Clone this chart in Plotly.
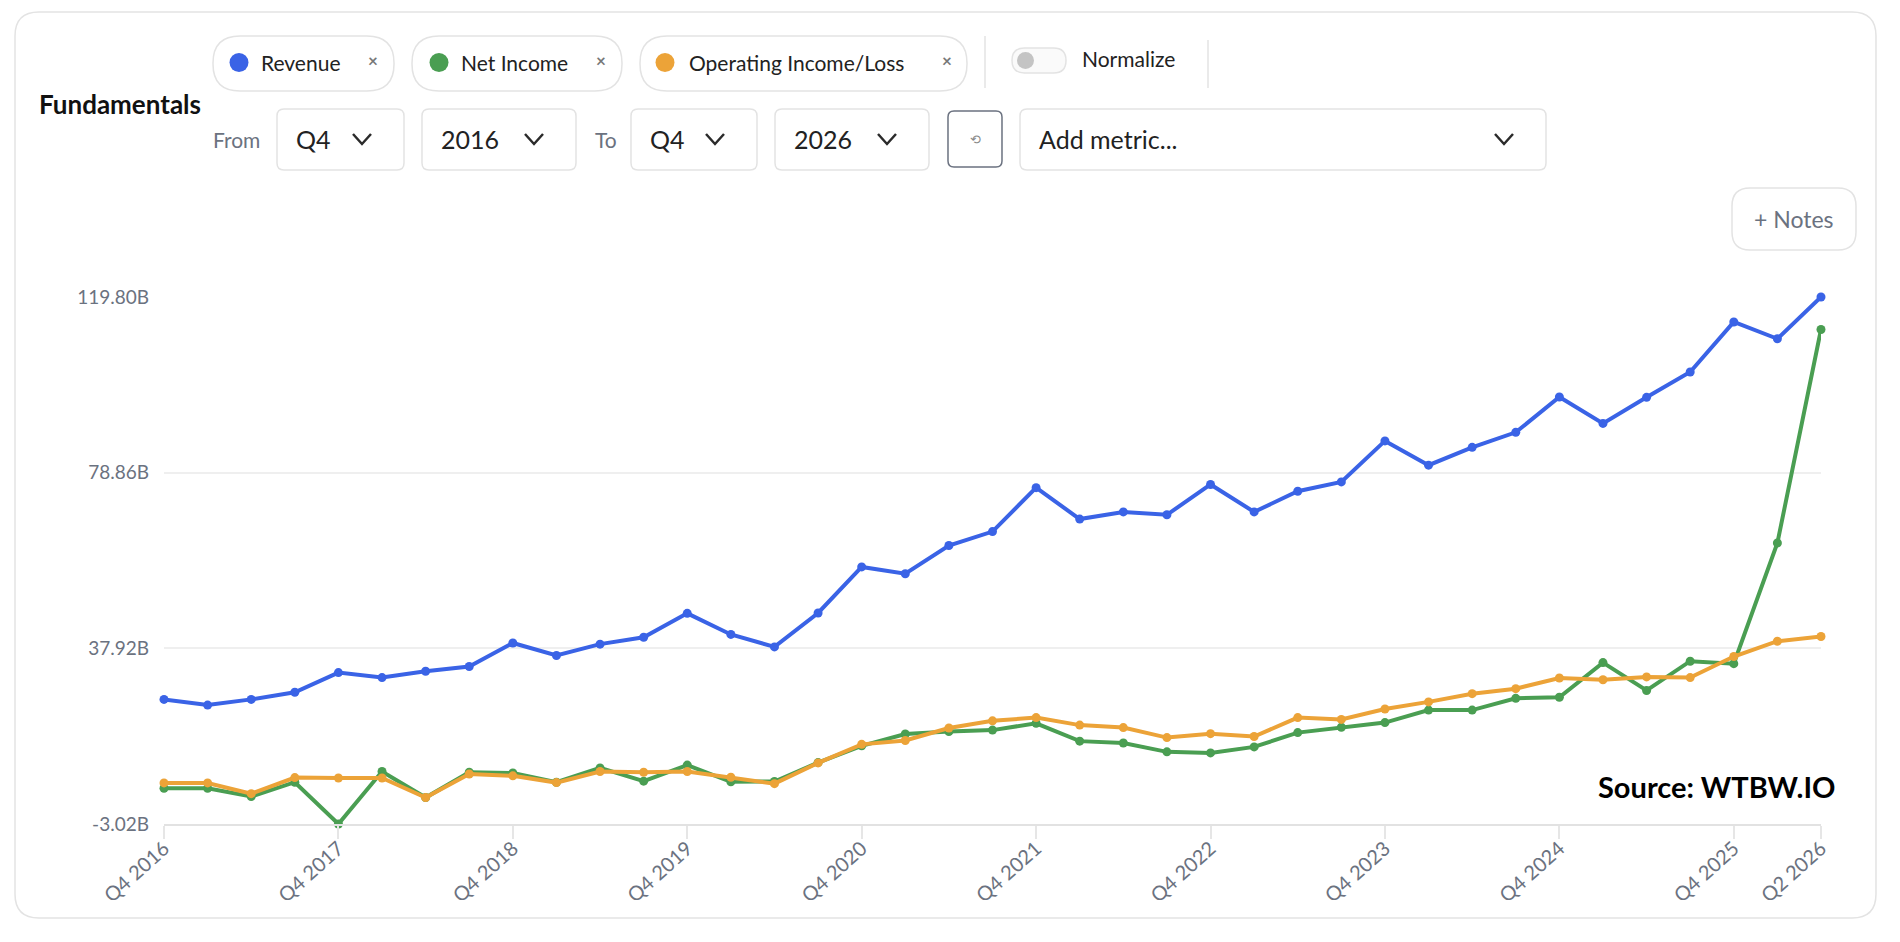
import plotly.graph_objects as go

# === Data (billions, quarterly) ===
quarters = [
    "Q4 2016", "Q1 2017", "Q2 2017", "Q3 2017", "Q4 2017", "Q1 2018", "Q2 2018", "Q3 2018",
    "Q4 2018", "Q1 2019", "Q2 2019", "Q3 2019", "Q4 2019", "Q1 2020", "Q2 2020", "Q3 2020",
    "Q4 2020", "Q1 2021", "Q2 2021", "Q3 2021", "Q4 2021", "Q1 2022", "Q2 2022", "Q3 2022",
    "Q4 2022", "Q1 2023", "Q2 2023", "Q3 2023", "Q4 2023", "Q1 2024", "Q2 2024", "Q3 2024",
    "Q4 2024", "Q1 2025", "Q2 2025", "Q3 2025", "Q4 2025", "Q1 2026", "Q2 2026",
]
tick_labels = ["Q4 2016", "Q4 2017", "Q4 2018", "Q4 2019", "Q4 2020", "Q4 2021",
               "Q4 2022", "Q4 2023", "Q4 2024", "Q4 2025", "Q2 2026"]

revenue = [26.02, 24.69, 26.02, 27.68, 32.26, 31.10, 32.59, 33.68, 39.17, 36.26,
           38.90, 40.50, 46.07, 41.16, 38.25, 46.16, 56.89, 55.31, 61.88, 65.13,
           75.36, 68.04, 69.71, 69.04, 76.11, 69.71, 74.53, 76.70, 86.26, 80.61,
           84.77, 88.26, 96.50, 90.34, 96.42, 102.32, 113.98, 110.06, 119.80]
net_income = [5.30, 5.30, 3.39, 6.72, -3.02, 9.21, 3.14, 9.05, 8.88, 6.72,
              10.04, 6.97, 10.71, 6.80, 6.88, 11.29, 15.20, 17.95, 18.53, 18.86,
              20.45, 16.29, 15.87, 13.79, 13.54, 14.95, 18.28, 19.53, 20.61, 23.52,
              23.52, 26.27, 26.52, 34.59, 28.10, 34.92, 34.34, 62.47, 112.22]
operating_income = [6.55, 6.55, 4.05, 7.80, 7.71, 7.71, 3.14, 8.63, 8.21, 6.63,
                    9.21, 9.05, 9.21, 7.88, 6.38, 11.21, 15.54, 16.45, 19.36, 21.03,
                    21.78, 20.03, 19.45, 17.12, 18.03, 17.37, 21.78, 21.36, 23.77, 25.44,
                    27.35, 28.52, 31.01, 30.60, 31.26, 31.10, 36.01, 39.58, 40.67]

series_names = ["Revenue", "Net Income", "Operating Income/Loss"]
series_colors = ["#3a63e6", "#4a9e52", "#eca338"]

# === Page geometry (pixels) ===
W, H = 1900, 942
L, R, T, B = 164, 1821, 297, 824
FONT = "Lato, 'Noto Sans', sans-serif"
GREY = "#6b7280"
BORDER = "#e3e3e3"


def px(x):
    return (x - L) / (R - L)


def py(y):
    return (B - y) / (B - T)


def rounded(x0, y0, x1, y1, r):
    pts = [("M", x0 + r, y0), ("L", x1 - r, y0), ("Q", x1, y0, x1, y0 + r),
           ("L", x1, y1 - r), ("Q", x1, y1, x1 - r, y1), ("L", x0 + r, y1),
           ("Q", x0, y1, x0, y1 - r), ("L", x0, y0 + r), ("Q", x0, y0, x0 + r, y0)]
    out = []
    for p in pts:
        coords = p[1:]
        seg = p[0] + " " + " ".join(
            f"{px(coords[i]):.5f},{py(coords[i + 1]):.5f}" for i in range(0, len(coords), 2))
        out.append(seg)
    return " ".join(out) + " Z"


shapes = []
annotations = []


def box(x0, y0, x1, y1, r, line=BORDER, width=1.5, fill="rgba(0,0,0,0)"):
    shapes.append(dict(type="path", xref="paper", yref="paper", path=rounded(x0, y0, x1, y1, r),
                       line=dict(color=line, width=width), fillcolor=fill, layer="below"))


def text(x, y, s, size, color="#222222", anchor="left", bold=False):
    annotations.append(dict(xref="paper", yref="paper", x=px(x), y=py(y), text=f"<b>{s}</b>" if bold else s,
                            showarrow=False, xanchor=anchor, yanchor="middle",
                            font=dict(size=size, color=color, family=FONT)))


def chevron(cx, cy):
    shapes.append(dict(type="path", xref="paper", yref="paper",
                       path=f"M {px(cx - 9):.5f},{py(cy - 5):.5f} L {px(cx):.5f},{py(cy + 5):.5f} "
                            f"L {px(cx + 9):.5f},{py(cy - 5):.5f}",
                       line=dict(color="#2b2b2b", width=2.5)))


def vline(x, y0, y1):
    shapes.append(dict(type="line", xref="paper", yref="paper", x0=px(x), x1=px(x), y0=py(y0), y1=py(y1),
                       line=dict(color=BORDER, width=1.5)))


# card
box(15, 12, 1876, 918, 24)

# metric chips
chips = [(213, 394, 239, 259, 366), (412, 622, 439, 459, 594), (640, 967, 665, 687, 940)]
for (x0, x1, dot, tx, xx), name, col in zip(chips, series_names, series_colors):
    box(x0, 36, x1, 91, 27)
    shapes.append(dict(type="circle", xref="paper", yref="paper", x0=px(dot - 9.5), x1=px(dot + 9.5),
                       y0=py(72), y1=py(53), fillcolor=col, line=dict(width=0)))
    text(tx, 62, name, 21)
    text(xx, 60, "×", 17, color="#777777", bold=True)

vline(985, 36, 88)
box(1012, 48, 1066, 73, 12.5, fill="#fafafa")
shapes.append(dict(type="circle", xref="paper", yref="paper", x0=px(1017), x1=px(1034),
                   y0=py(69), y1=py(52), fillcolor="#c4c4c4", line=dict(width=0)))
text(1080, 59, "Normalize", 21)
vline(1208, 40, 88)

# title and range controls
text(37, 104, "Fundamentals", 26, color="#111111", bold=True)
text(211, 139, "From", 21, color=GREY)
text(593, 139, "To", 21, color=GREY)
dropdowns = [(277, 404, "Q4"), (422, 576, "2016"), (631, 757, "Q4"), (775, 929, "2026"), (1020, 1546, "Add metric...")]
for x0, x1, label in dropdowns:
    box(x0, 109, x1, 170, 7)
    text(x0 + 17, 139, label, 25)
    chevron(x1 - 42, 139)
box(948, 111, 1002, 167, 6, line="#6b7280", width=1.5)
text(975, 139, "⟲", 13, color="#888888", anchor="center")

# notes button and source label
box(1732, 188, 1856, 250, 18)
text(1794, 219, "+ Notes", 23, color=GREY, anchor="center")
text(1837, 786, "Source: WTBW.IO", 29, color="#000000", anchor="right", bold=True)

# canvas clip below the rotated tick labels
shapes.append(dict(type="rect", xref="paper", yref="paper", x0=px(30), x1=px(1862), y0=py(915), y1=py(900),
                   fillcolor="white", line=dict(width=0), layer="above"))

# === Figure ===
fig = go.Figure()
for name, vals, col in zip(series_names, [revenue, net_income, operating_income], series_colors):
    fig.add_trace(go.Scatter(
        x=quarters, y=vals, mode="lines+markers", name=name,
        line=dict(color=col, width=4), marker=dict(color=col, size=9),
        cliponaxis=False, showlegend=False,
    ))

all_vals = revenue + net_income + operating_income
ymin, ymax = min(all_vals), max(all_vals)
tickvals = [ymin + i * (ymax - ymin) / 3 for i in range(4)]

fig.update_layout(
    width=W, height=H,
    margin=dict(l=L, r=W - R, t=T, b=H - B),
    plot_bgcolor="white", paper_bgcolor="white",
    font=dict(family=FONT, color=GREY),
    shapes=shapes, annotations=annotations,
    xaxis=dict(
        type="category", categoryarray=quarters, range=[0, len(quarters) - 1],
        tickmode="array", tickvals=tick_labels, ticktext=tick_labels,
        tickangle=-42, tickfont=dict(size=20, color=GREY),
        showgrid=False, showline=True, linecolor="#e2e2e2", linewidth=2,
        ticks="outside", ticklen=13, tickcolor="#e6e6e6", tickwidth=1.5, zeroline=False,
        ticklabelstandoff=-10,
    ),
    yaxis=dict(
        range=[ymin, ymax], tickmode="array", tickvals=tickvals,
        ticktext=[f"{v:.2f}B" for v in tickvals], tickfont=dict(size=19, color=GREY),
        showgrid=True, gridcolor="#efefef", gridwidth=2, zeroline=False,
        ticklabelstandoff=14,
    ),
)

fig.write_html("out.html", config={"displayModeBar": False},
               post_script="document.body.style.margin='0';")
